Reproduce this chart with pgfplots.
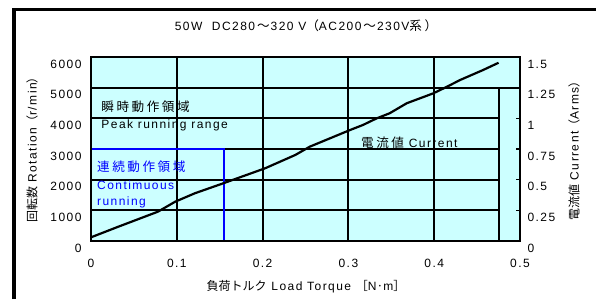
\documentclass[border=0pt]{standalone}
\usepackage{pgfplots}
\pgfplotsset{compat=1.18}
\usepackage{fontspec}
\setmainfont{Liberation Sans}[LetterSpace=12]
\newfontfamily\cjk{Noto Sans CJK JP}[Scale=1.05, LetterSpace=20]
\newfontfamily\cjkn{Noto Sans CJK JP}
\definecolor{bgcyan}{RGB}{204,255,255}
\definecolor{myblue}{RGB}{0,0,255}
\newcommand{\fs}{\fontsize{12bp}{14bp}\selectfont}
\begin{document}
\begin{tikzpicture}[x=1bp,y=1bp,font=\fs]
\useasboundingbox (0,0) rectangle (596,299);
\begin{axis}[
  at={(91bp,58bp)}, anchor=south west, scale only axis,
  width=429bp, height=184bp,
  xmin=0, xmax=0.5, ymin=0, ymax=6000,
  axis background/.style={fill=bgcyan},
  axis line style={line width=2.6bp},
  axis on top,
  xtick={0,0.1,0.2,0.3,0.4,0.5}, xticklabels={0,0.1,0.2,0.3,0.4,0.5},
  ytick={0,1000,2000,3000,4000,5000,6000},
  yticklabels={0,1000,2000,3000,4000,5000,6000},
  major tick length=0pt,
  xticklabel style={font=\fs, yshift=-15bp},
  yticklabel style={font=\fs, xshift=-6bp, yshift=-7bp},
]
\addplot[black, line width=2bp] coordinates {(0.1,0) (0.1,6000)};
\addplot[black, line width=2bp] coordinates {(0.2,0) (0.2,6000)};
\addplot[black, line width=2bp] coordinates {(0.3,0) (0.3,6000)};
\addplot[black, line width=2bp] coordinates {(0.4,0) (0.4,6000)};
\addplot[black, line width=2bp] coordinates {(0,1000) (0.4755,1000)};
\addplot[black, line width=2bp] coordinates {(0,2000) (0.4755,2000)};
\addplot[black, line width=2bp] coordinates {(0,3000) (0.4755,3000)};
\addplot[black, line width=2bp] coordinates {(0,4000) (0.4755,4000)};
\addplot[black, line width=2bp] coordinates {(0,5000) (0.5,5000)};
\addplot[black, line width=2bp] coordinates {(0.4755,0) (0.4755,5000)};
\addplot[myblue, line width=2.2bp] coordinates {(0,3000) (0.155,3000) (0.155,0)};
\node[anchor=west, inner sep=0] at (axis cs:0.012,4370) {\cjk 瞬時動作領域};
\node[anchor=west, inner sep=0] at (axis cs:0.012,3780) {Peak running range};
\node[anchor=west, inner sep=0] at (axis cs:0.3147,3195) {{\cjk 電流値} Current};
\node[anchor=west, inner sep=0, text=myblue] at (axis cs:0.007,2412) {\cjk 連続動作領域};
\node[anchor=west, inner sep=0, text=myblue] at (axis cs:0.007,1826) {Contimuous};
\node[anchor=west, inner sep=0, text=myblue] at (axis cs:0.007,1271) {running};
\end{axis}
\begin{axis}[
  at={(91bp,58bp)}, anchor=south west, scale only axis,
  width=429bp, height=184bp,
  xmin=0, xmax=0.5, ymin=0, ymax=1.5,
  axis x line=none, axis y line*=right,
  axis line style={line width=2.6bp, -},
  ytick={0,0.25,0.5,0.75,1,1.25,1.5},
  yticklabels={0,0.25,0.5,0.75,1,1.25,1.5},
  tick align=inside, major tick length=4bp,
  tick style={black, line width=1.5bp},
  yticklabel style={font=\fs, xshift=4bp, yshift=-7bp},
]
\addplot[black, line width=2.2bp] coordinates {
(0,0.03) (0.032,0.117) (0.078,0.239) (0.098,0.320) (0.121,0.389)
(0.154,0.470) (0.203,0.593) (0.238,0.701) (0.255,0.769) (0.302,0.905)
(0.317,0.946) (0.333,1.000) (0.348,1.041) (0.368,1.123) (0.399,1.204)
(0.415,1.258) (0.430,1.312) (0.457,1.394) (0.475,1.453)};
\end{axis}
\draw[line width=3.5bp] (14,0) -- (14,289.5) -- (596,289.5);
\node at (306,273) {50W\ \ DC280{\cjk\hspace{2bp}～\hspace{1bp}}320 V{\cjk （}AC200{\cjk\hspace{2bp}～\hspace{1bp}}230V{\cjk 系）}};
\node[rotate=90] at (32,152) {{\cjkn 回転数} Rotation{\cjkn （}r/min{\cjkn ）}};
\node[rotate=90] at (574,151) {{\cjkn 電流値} Current{\cjkn （}Arms{\cjkn ）}};
\node at (306,12) {{\cjkn 負荷トルク} Load Torque {\cjkn ［}N{\cjkn ·}m{\cjkn ］}};
\end{tikzpicture}
\end{document}
